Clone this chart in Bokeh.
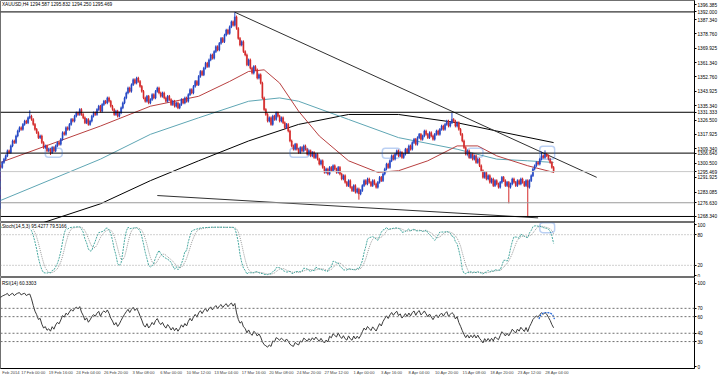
import numpy as np
from bokeh.plotting import figure
from bokeh.models import Range1d, FixedTicker, Span, Label, BoxAnnotation, ColumnDataSource, LinearAxis
from bokeh.layouts import column
from bokeh.embed import file_html
from bokeh.resources import INLINE

# ---------------- data (XAUUSD H4) ----------------
pre_close = [1274, 1276, 1279, 1281, 1280, 1284, 1286, 1285, 1289, 1291,
             1290, 1293, 1292, 1295, 1294, 1297, 1299, 1298, 1301, 1303]
close = [
    1305, 1308, 1307, 1311, 1314, 1313, 1317, 1320, 1322, 1321,
    1324, 1326, 1325, 1328, 1329, 1327, 1324, 1321, 1319, 1316,
    1317, 1313, 1310, 1311, 1308, 1309, 1307, 1310, 1308, 1311,
    1313, 1312, 1315, 1319, 1318, 1322, 1321, 1324, 1327, 1326,
    1329, 1331, 1330, 1333, 1330, 1328, 1325, 1327, 1324, 1326,
    1329, 1331, 1330, 1333, 1335, 1332, 1336, 1338, 1337, 1340,
    1338, 1335, 1333, 1330, 1332, 1329, 1331, 1334, 1337, 1340,
    1343, 1346, 1344, 1348, 1351, 1349, 1352, 1350, 1347, 1344,
    1340, 1338, 1341, 1337, 1339, 1342, 1340, 1344, 1346, 1343,
    1341, 1343, 1340, 1338, 1341, 1339, 1336, 1338, 1335, 1337,
    1334, 1336, 1339, 1337, 1340, 1338, 1342, 1345, 1343, 1347,
    1350, 1348, 1353, 1356, 1354, 1358, 1361, 1359, 1363, 1366,
    1364, 1368, 1371, 1369, 1373, 1376, 1374, 1378, 1381, 1379,
    1383, 1386, 1384, 1389, 1382, 1376, 1372, 1374, 1368, 1366,
    1360, 1363, 1358, 1355, 1359, 1357, 1352, 1354, 1349, 1340,
    1333, 1330, 1326, 1328, 1324, 1329, 1327, 1331, 1329, 1326,
    1328, 1325, 1322, 1324, 1320, 1314, 1311, 1309, 1312, 1309,
    1307, 1310, 1308, 1311, 1309, 1306, 1308, 1305, 1307, 1304,
    1306, 1303, 1300, 1302, 1298, 1295, 1297, 1294, 1298, 1296,
    1299, 1297, 1295, 1298, 1294, 1291, 1293, 1289, 1287, 1290,
    1286, 1284, 1287, 1283, 1285, 1282, 1284, 1287, 1290, 1288,
    1291, 1289, 1287, 1290, 1288, 1286, 1289, 1292, 1290, 1294,
    1297, 1300, 1298, 1302, 1305, 1303, 1306, 1308, 1305, 1307,
    1304, 1306, 1309, 1307, 1311, 1309, 1313, 1315, 1312, 1316,
    1318, 1315, 1317, 1320, 1318, 1316, 1319, 1317, 1315, 1318,
    1320, 1318, 1321, 1323, 1321, 1324, 1326, 1323, 1325, 1327,
    1326, 1323, 1325, 1321, 1318, 1314, 1310, 1306, 1308, 1304,
    1306, 1303, 1305, 1301, 1303, 1299, 1296, 1292, 1295, 1291,
    1293, 1289, 1291, 1287, 1290, 1288, 1286, 1289, 1292, 1290,
    1287, 1289, 1286, 1288, 1291, 1289, 1287, 1290, 1288, 1291,
    1289, 1287, 1290, 1286, 1290, 1293, 1297, 1299, 1301, 1300,
    1303, 1305, 1304, 1306, 1305, 1303, 1301, 1298, 1295.469,
]
wick = 0.8
high_over = {14: 1332.5, 133: 1391.8, 259: 1331.0, 313: 1308.3, 311: 1307.5}
low_over = {292: 1276.3, 303: 1268.6, 205: 1278.5, 26: 1305.5}

# moving averages sampled at bars
ma_bars = [-3, 55, 84, 112, 130, 141, 150, 159, 170, 182, 199, 216, 228, 245, 262, 274, 285, 303, 318]
ma_red = [1301, 1323, 1335, 1341, 1350, 1356, 1357, 1349, 1332, 1317, 1302, 1295, 1296, 1302, 1311, 1311, 1305, 1299, 1295]
teal_bars = [-3, 55, 84, 112, 141, 159, 170, 199, 228, 262, 285, 303, 318]
ma_teal = [1278, 1303, 1318, 1328, 1338, 1340, 1338, 1327, 1316, 1309, 1303, 1302, 1301]
black_bars = [20, 55, 84, 112, 141, 170, 199, 228, 262, 285, 318]
ma_black = [1264, 1276, 1290, 1302, 1314, 1324, 1330, 1330, 1325, 1320, 1313]

trend_hi_x = [133, 343]
trend_hi_y = [1391.8, 1292.0]
trend_lo_x = [88, 309]
trend_lo_y = [1281.0, 1267.5]

price_levels = [1392.000, 1331.333, 1306.640, 1276.630, 1268.340]
level_text = ["1392.000", "1331.333", "1306.640", "1276.630", "1268.340"]
last_price = 1295.469

price_ticks = [1396.385, 1387.340, 1378.760, 1369.925, 1361.340, 1352.760, 1343.925, 1335.340,
               1326.500, 1317.925, 1309.340, 1300.500, 1291.925, 1283.085]

time_bars = [-3, 10, 26, 42, 58, 74, 90, 106, 122, 138, 154, 170, 186, 202, 218, 234, 250, 266, 282, 298, 314]
time_labels = ["Feb 2014", "17 Feb 00:00", "19 Feb 16:00", "24 Feb 04:00", "26 Feb 20:00", "3 Mar 08:00",
               "6 Mar 00:00", "10 Mar 12:00", "13 Mar 04:00", "17 Mar 16:00", "20 Mar 08:00",
               "24 Mar 20:00", "27 Mar 12:00", "1 Apr 00:00", "3 Apr 16:00", "8 Apr 04:00",
               "10 Apr 20:00", "15 Apr 08:00", "18 Apr 20:00", "23 Apr 12:00", "28 Apr 04:00"]

# annotation boxes: (left bar, right bar, bottom, top)
main_boxes = [(23, 32.8, 1304.2, 1309.6), (165, 176, 1304.2, 1309.6), (218.6, 229, 1303.6, 1309.6),
              (268, 277, 1304.2, 1309.6), (310, 318.6, 1303.0, 1310.8)]
stoch_box = (310, 318.6, 84.0, 103.5)
rsi_arc_x = [309.5, 310.5, 312, 314, 316, 317.5, 318.5]
rsi_arc_y = [57, 62, 64.5, 65, 64.5, 62, 57]

# ---------------- derived OHLC + indicators ----------------
allc = np.array(pre_close + close, dtype=float)
npre = len(pre_close)
xs_all = np.arange(-npre, len(close))
opens_all = np.concatenate([[allc[0] - 1.0], allc[:-1]])
hi_all = np.maximum(opens_all, allc) + wick
lo_all = np.minimum(opens_all, allc) - wick
for k, v in high_over.items():
    hi_all[k + npre] = v
for k, v in low_over.items():
    lo_all[k + npre] = v

def rsi(c, n=14):
    d = np.diff(c)
    up = np.where(d > 0, d, 0.0)
    dn = np.where(d < 0, -d, 0.0)
    out = np.full(len(c), np.nan)
    au, ad = up[:n].mean(), dn[:n].mean()
    out[n] = 100 - 100 / (1 + au / ad) if ad > 0 else 100
    for i in range(n + 1, len(c)):
        au = (au * (n - 1) + up[i - 1]) / n
        ad = (ad * (n - 1) + dn[i - 1]) / n
        out[i] = 100 - 100 / (1 + au / ad) if ad > 0 else 100
    return out

def stoch(h, l, c, k=14, d=5, s=3):
    n = len(c)
    ll = np.full(n, np.nan)
    hh = np.full(n, np.nan)
    for i in range(k - 1, n):
        ll[i] = l[i - k + 1:i + 1].min()
        hh[i] = h[i - k + 1:i + 1].max()
    main = np.full(n, np.nan)
    for i in range(k - 1 + s - 1, n):
        num = np.sum(c[i - s + 1:i + 1] - ll[i - s + 1:i + 1])
        den = np.sum(hh[i - s + 1:i + 1] - ll[i - s + 1:i + 1])
        main[i] = 100 * num / den if den > 0 else 100
    sig = np.full(n, np.nan)
    for i in range(k - 1 + s - 1 + d - 1, n):
        sig[i] = main[i - d + 1:i + 1].mean()
    return main, sig

rsi_v = rsi(allc)
st_main, st_sig = stoch(hi_all, lo_all, allc)

UP = "#2447c4"
DN = "#d42a2a"
colors = [UP if c >= o else DN for o, c in zip(opens_all, allc)]
src = ColumnDataSource(dict(x=xs_all, o=opens_all, c=allc, h=hi_all, l=lo_all,
                            top=np.maximum(opens_all, allc), bot=np.minimum(opens_all, allc), col=colors))

# ---------------- layout ----------------
PXB = 1.733
FW = 698
xr = Range1d(-3, -3 + FW / PXB)
FONT = "Liberation Sans"
FS = "4.7px"

def base_fig(h, yr, bottom=0):
    p = figure(width=720, height=h, x_range=xr, y_range=yr, output_backend="svg", toolbar_location=None,
               x_axis_location=None, y_axis_location="right", min_border_left=0, min_border_right=22,
               min_border_top=0, min_border_bottom=bottom)
    p.grid.visible = False
    p.outline_line_color = "#707070"
    p.background_fill_color = "white"
    p.border_fill_color = "white"
    ax = p.yaxis[0]
    ax.major_label_text_font = FONT
    ax.major_label_text_font_size = FS
    ax.major_label_text_color = "black"
    ax.major_tick_out = 2
    ax.major_tick_in = 0
    ax.minor_tick_out = 0
    ax.minor_tick_in = 0
    ax.major_label_standoff = 1
    ax.axis_line_color = "black"
    return p

# main price panel
pm = base_fig(222, Range1d(1264.7, 1398.9))
all_ticks = price_ticks + price_levels + [last_price]
overrides = {t: f"{t:.3f}" for t in price_ticks}
for lv, tx in zip(price_levels, level_text):
    overrides[lv] = tx
overrides[last_price] = "1295.469"
pm.yaxis.ticker = FixedTicker(ticks=all_ticks)
pm.yaxis.major_label_overrides = overrides

for lv in price_levels:
    col = "#9a9a9a" if abs(lv - 1276.63) < 0.1 else "black"
    pm.add_layout(Span(location=lv, dimension="width", line_color=col, line_width=1))
pm.add_layout(Span(location=last_price, dimension="width", line_color="#c8c8c8", line_width=1))

pm.line(black_bars, ma_black, line_color="black", line_width=1)
pm.line(teal_bars, ma_teal, line_color="#5fa6b4", line_width=1)
pm.line(ma_bars, ma_red, line_color="#b84040", line_width=1)
pm.line(trend_hi_x, trend_hi_y, line_color="#303030", line_width=1)
pm.line(trend_lo_x, trend_lo_y, line_color="#303030", line_width=1)

pm.segment(x0="x", y0="h", x1="x", y1="l", line_color="col", line_width=1, source=src)
pm.vbar(x="x", width=0.62, top="top", bottom="bot", fill_color="col", line_color="col", line_width=0.5, source=src)

for (l, r, b, t) in main_boxes:
    pm.add_layout(BoxAnnotation(left=l, right=r, bottom=b, top=t, fill_alpha=0, line_color="#1f63d6",
                                line_width=1.5, border_radius=3))

pm.add_layout(Label(x=-2.2, y=1396.6, text="XAUUSD,H4  1294.587 1295.832 1294.250 1295.469",
                    text_font=FONT, text_font_size=FS, text_color="black", text_baseline="middle"))

# stochastic panel
ps = base_fig(55, Range1d(-3.9, 103.9))
ps.yaxis.ticker = FixedTicker(ticks=[0, 20, 80, 100])
for lv in [20, 80]:
    ps.add_layout(Span(location=lv, dimension="width", line_color="#a0a0a0", line_width=1, line_dash="1 2"))
ps.line(xs_all, st_sig, line_color="#9a9a9a", line_width=1, line_dash="1 1")
ps.line(xs_all, st_main, line_color="#48a8a0", line_width=1, line_dash="2 1")
l_, r_, b_, t_ = stoch_box
ps.add_layout(BoxAnnotation(left=l_, right=r_, bottom=b_, top=t_, fill_alpha=0, line_color="#1f63d6",
                            line_width=1.5, border_radius=3))
ps.add_layout(Label(x=-2.2, y=96, text="Stoch(14,5,3) 95.4277 79.5166", text_font=FONT, text_font_size=FS,
                    text_color="black", text_baseline="middle", background_fill_color="white"))

# RSI panel
pr = base_fig(100, Range1d(-2.4, 107.1), bottom=8)
xa = LinearAxis()
pr.add_layout(xa, "below")
xa.ticker = FixedTicker(ticks=[b + 6.0 for b in time_bars])
xa.major_label_overrides = {b + 6.0: s for b, s in zip(time_bars, time_labels)}
xa.major_label_text_font = FONT
xa.major_label_text_font_size = "4.1px"
xa.major_tick_out = 0
xa.major_tick_in = 0
xa.minor_tick_out = 0
xa.minor_tick_in = 0
xa.major_label_standoff = 1
xa.axis_line_color = "black"
pr.yaxis.ticker = FixedTicker(ticks=[0, 30, 40, 60, 70, 100])
for lv in [30, 40, 60, 70]:
    pr.add_layout(Span(location=lv, dimension="width", line_color="#707070", line_width=1, line_dash="2 2"))
pr.line(xs_all, rsi_v, line_color="#3a3a3a", line_width=1)
pr.line(rsi_arc_x, rsi_arc_y, line_color="#1f63d6", line_width=1.2, line_dash="2 1")
pr.add_layout(Label(x=-2.2, y=100, text="RSI(14) 60.3303", text_font=FONT, text_font_size=FS,
                    text_color="black", text_baseline="middle"))

layout = column(pm, ps, pr, spacing=0)
open("out.html", "w").write(file_html(layout, INLINE))
